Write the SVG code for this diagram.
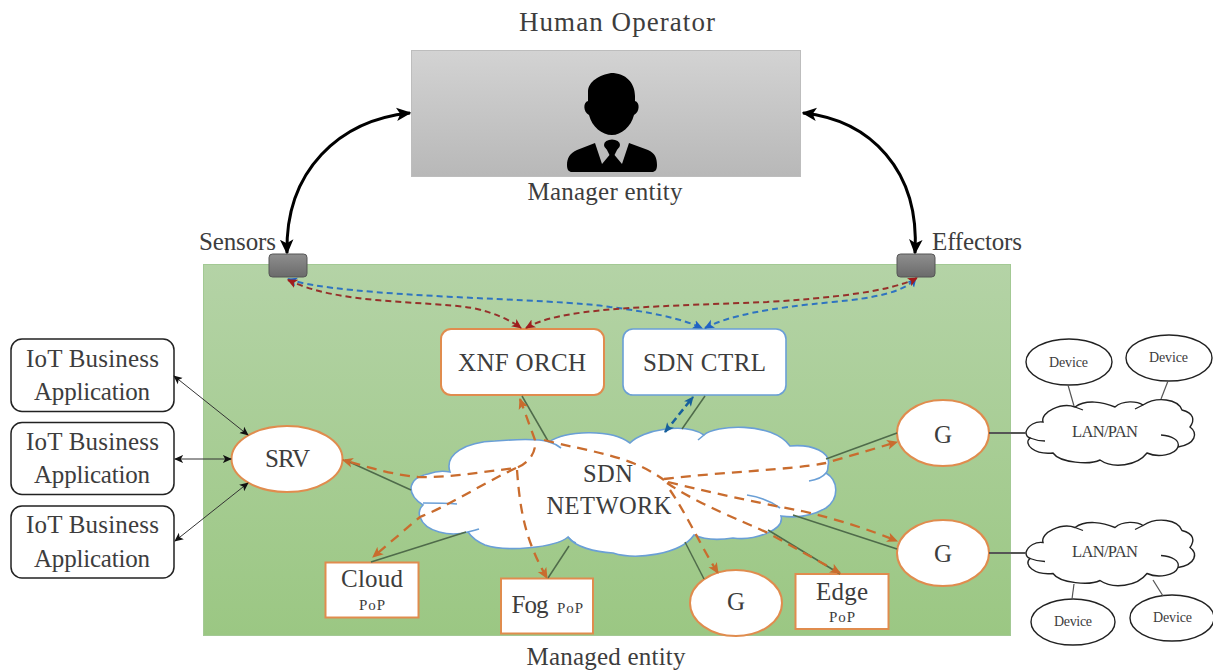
<svg xmlns="http://www.w3.org/2000/svg" width="1213" height="670" viewBox="0 0 1213 670">
<style>
text{font-family:"Liberation Serif","DejaVu Serif",serif;fill:#3d3d3d;text-anchor:middle}
.l{font-size:27px}.m{font-size:25px}.n{font-size:24.500px}.s{font-size:15px}.d{font-size:14px}.p{font-size:16.500px}
.app{fill:#fff;stroke:#222;stroke-width:1.5}
.orange{fill:#fff;stroke:#e08c4e;stroke-width:2}
.blue{fill:#fff;stroke:#6a9fd6;stroke-width:1.6}
.bk{fill:#fff;stroke:#222;stroke-width:1.4}
.inner{fill:none;stroke:#6a9fd6;stroke-width:1.6}
.inner2{fill:none;stroke:#222;stroke-width:1.3}
.grey{stroke:#4f6b4a;stroke-width:1.5;fill:none}
.dk{stroke:#555;stroke-width:1.8;fill:none}
.thin{stroke:#333;stroke-width:1;fill:none;marker-start:url(#mThin);marker-end:url(#mThin)}
.thick{stroke:#000;stroke-width:3;fill:none;marker-start:url(#mThick);marker-end:url(#mThick)}
.o{stroke:#c96c2e;stroke-width:2.300;stroke-dasharray:10 7;fill:none}
.r{stroke:#96302a;stroke-width:2;stroke-dasharray:6 4;fill:none}
.b{stroke:#2f74c0;stroke-width:2;stroke-dasharray:6 4;fill:none}
</style>
<defs>
<linearGradient id="gG" x1="0" y1="0" x2="0" y2="1"><stop offset="0" stop-color="#b4d3a6"/><stop offset="1" stop-color="#9bc783"/></linearGradient>
<linearGradient id="gM" x1="0" y1="0" x2="0" y2="1"><stop offset="0" stop-color="#d3d3d3"/><stop offset="1" stop-color="#b8b8b8"/></linearGradient>
<linearGradient id="gS" x1="0" y1="0" x2="0" y2="1"><stop offset="0" stop-color="#8e8e8e"/><stop offset="1" stop-color="#6b6b6b"/></linearGradient>
<marker id="mThin" viewBox="0 0 10 10" refX="9" refY="5" markerWidth="9" markerHeight="9" markerUnits="userSpaceOnUse" orient="auto-start-reverse"><path d="M0,0.5L10,5L0,9.5L2.5,5Z" fill="#111"/></marker>
<marker id="mThick" viewBox="0 0 10 10" refX="9" refY="5" markerWidth="15" markerHeight="15" markerUnits="userSpaceOnUse" orient="auto-start-reverse"><path d="M0,0.5L10,5L0,9.5L2.5,5Z" fill="#000"/></marker>
<marker id="mO" viewBox="0 0 10 10" refX="9" refY="5" markerWidth="11" markerHeight="11" markerUnits="userSpaceOnUse" orient="auto-start-reverse"><path d="M0,0.5L10,5L0,9.5L2.5,5Z" fill="#c96c2e"/></marker>
<marker id="mR" viewBox="0 0 10 10" refX="9" refY="5" markerWidth="10" markerHeight="10" markerUnits="userSpaceOnUse" orient="auto-start-reverse"><path d="M0,0.5L10,5L0,9.5L2.5,5Z" fill="#a01c1c"/></marker>
<marker id="mB" viewBox="0 0 10 10" refX="9" refY="5" markerWidth="10" markerHeight="10" markerUnits="userSpaceOnUse" orient="auto-start-reverse"><path d="M0,0.5L10,5L0,9.5L2.5,5Z" fill="#1f62c4"/></marker>
<marker id="mT" viewBox="0 0 10 10" refX="9" refY="5" markerWidth="10" markerHeight="10" markerUnits="userSpaceOnUse" orient="auto-start-reverse"><path d="M0,0.5L10,5L0,9.5L2.5,5Z" fill="#17609c"/></marker>
</defs>

<text class="l" x="617" y="31" textLength="196">Human Operator</text>
<rect id="managed-entity" x="203.500" y="264.500" width="807" height="371" fill="url(#gG)" stroke="#a3c994"/>
<text class="m" x="606" y="665" textLength="159">Managed entity</text>

<g id="manager-entity">
<rect x="411.500" y="50.500" width="389" height="126" fill="url(#gM)" stroke="#bdbdbd"/>
<path d="M611,73C626,73 635,83 635,96L635,101C640,102 640,112 634,115C631,127 621,135 612,135C602,135 592,127 589,115C583,112 583,102 588,101L588,92C588,81 600,75 611,73Z" fill="#000"/>
<path d="M595,143L602,164L612,152L622,164L629,143L648,150C655,153 657,158 657,165C657,170 655,172 652,172L572,172C569,172 567,170 567,165C567,158 570,153 577,150Z" fill="#000"/>
<ellipse cx="612" cy="145" rx="8" ry="5.500" fill="#000"/>
<path d="M606,148L618,148L614,156L610,156Z" fill="#000"/>
<text class="m" x="605" y="200" textLength="155">Manager entity</text>
</g>

<g id="sensors"><rect x="269" y="254" width="38" height="23" rx="3.500" fill="url(#gS)" stroke="#555"/><text class="m" x="237.500" y="250" textLength="77">Sensors</text></g>
<g id="effectors"><rect x="897" y="254" width="38" height="23" rx="3.500" fill="url(#gS)" stroke="#555"/><text class="m" x="977" y="250" textLength="90">Effectors</text></g>

<g id="app1"><rect class="app" x="11" y="339" width="163" height="72.500" rx="11"/><text class="m" x="92.500" y="367" textLength="133">IoT Business</text><text class="m" x="92" y="400" textLength="116">Application</text></g>
<g id="app2"><rect class="app" x="11" y="422.500" width="163" height="72" rx="11"/><text class="m" x="92.500" y="450" textLength="133">IoT Business</text><text class="m" x="92" y="483" textLength="116">Application</text></g>
<g id="app3"><rect class="app" x="11" y="506" width="163" height="72" rx="11"/><text class="m" x="92.500" y="533" textLength="133">IoT Business</text><text class="m" x="92" y="567" textLength="116">Application</text></g>

<g id="srv"><ellipse class="orange" cx="287" cy="459" rx="55.500" ry="33"/><text class="m" x="287.500" y="467" textLength="45">SRV</text></g>
<g id="xnf-orch"><rect class="orange" x="441" y="329" width="163" height="66" rx="10"/><text class="m" x="522" y="371" textLength="128">XNF ORCH</text></g>
<g id="sdn-ctrl"><rect class="blue" x="623" y="329" width="163" height="66" rx="10"/><text class="m" x="704.500" y="371" textLength="123">SDN CTRL</text></g>

<g id="sdn-network">
<path class="blue" d="M411,488C412,480 418,476 428,474C436,471 445,471 450,472C444,454 466,442 495,441C520,439 540,439 549,442C565,431 610,428 630,443C642,430 685,422 704,435C714,425 772,421 790,446C812,444 832,452 828,466C828,470 827,472 826,473C838,480 840,498 826,508C812,516 795,518 781,516C785,530 755,541 733,538C720,540 705,540 694,535C680,555 635,560 613,553C595,552 575,547 568,537C555,548 505,552 485,545C478,542 472,538 468,532C450,537 425,532 420,517C418,512 420,508 423,505C415,500 411,495 411,488Z"/>
<path class="inner" d="M549,442C553,443 557,445 561,448M704,435L698,440M826,473C822,478 816,480 809,481M780,508C772,502 760,497 747,495M423,503C432,503 445,503 457,504M468,532C472,531 476,530 479,529M568,537C571,540 573,542 576,543"/>
<text class="n" x="608" y="482" textLength="50">SDN</text>
<text class="n" x="609" y="514" textLength="125">NETWORK</text>
</g>

<g id="cloud-pop"><rect class="orange" x="325.500" y="562.500" width="93" height="55"/><text class="m" x="372" y="587" textLength="62">Cloud</text><text class="s" x="372" y="610" textLength="26">PoP</text></g>
<g id="fog-pop"><rect class="orange" x="501" y="578.500" width="92" height="55"/><text class="m" x="530" y="613" textLength="37">Fog</text><text class="s" x="570" y="613" textLength="26">PoP</text></g>
<g id="g-bottom"><ellipse class="orange" cx="736" cy="603" rx="46" ry="33"/><text class="m" x="736" y="610" textLength="20">G</text></g>
<g id="edge-pop"><rect class="orange" x="795.500" y="574" width="93" height="55"/><text class="m" x="842" y="600" textLength="52">Edge</text><text class="s" x="842" y="622" textLength="26">PoP</text></g>
<g id="g1"><ellipse class="orange" cx="943" cy="433" rx="46" ry="33"/><text class="m" x="943" y="443" textLength="20">G</text></g>
<g id="g2"><ellipse class="orange" cx="943" cy="553" rx="46" ry="33"/><text class="m" x="943" y="562" textLength="20">G</text></g>

<g id="lan1">
<path class="bk" d="M1026,432C1028,425 1036,421 1043,422C1040,412 1062,402 1075,407C1086,399 1103,402 1115,407C1123,400 1137,401 1143,405C1157,396 1178,399 1182,410C1194,413 1195,420 1190,427C1198,433 1196,444 1178,447C1175,455 1158,458 1147,453C1137,466 1113,469 1100,460C1090,465 1060,463 1053,453C1034,455 1023,444 1030,438C1027,437 1026,435 1026,432Z"/>
<path class="inner2" d="M1030,438C1035,440 1040,441 1045,441M1178,447C1180,440 1172,436 1161,435M1075,407L1083,410M1143,405L1135,409"/>
<text class="p" x="1105" y="437" textLength="66">LAN/PAN</text>
</g>
<g id="lan2">
<path class="bk" transform="translate(0,120.500)" d="M1026,432C1028,425 1036,421 1043,422C1040,412 1062,402 1075,407C1086,399 1103,402 1115,407C1123,400 1137,401 1143,405C1157,396 1178,399 1182,410C1194,413 1195,420 1190,427C1198,433 1196,444 1178,447C1175,455 1158,458 1147,453C1137,466 1113,469 1100,460C1090,465 1060,463 1053,453C1034,455 1023,444 1030,438C1027,437 1026,435 1026,432Z"/>
<path class="inner2" transform="translate(0,120.500)" d="M1030,438C1035,440 1040,441 1045,441M1178,447C1180,440 1172,436 1161,435M1075,407L1083,410M1143,405L1135,409"/>
<text class="p" x="1105" y="557" textLength="66">LAN/PAN</text>
</g>
<g id="device1"><ellipse class="bk" cx="1069" cy="362" rx="43" ry="23"/><text class="d" x="1068.500" y="367" textLength="39">Device</text></g>
<g id="device2"><ellipse class="bk" cx="1169" cy="358" rx="43" ry="23"/><text class="d" x="1168.500" y="362" textLength="39">Device</text></g>
<g id="device3"><ellipse class="bk" cx="1073" cy="622" rx="42" ry="23"/><text class="d" x="1073" y="626" textLength="38">Device</text></g>
<g id="device4"><ellipse class="bk" cx="1172" cy="618" rx="42" ry="23"/><text class="d" x="1172.500" y="622" textLength="39">Device</text></g>

<g id="connectors">
<path class="thick" d="M410,113C340,120 285,170 287,253"/>
<path class="thick" d="M803,113C870,120 920,170 915,253"/>
<path class="b" marker-start="url(#mB)" marker-end="url(#mB)" d="M288,279C340,298 560,298 610,307C650,312 680,318 702,328"/>
<path class="b" marker-start="url(#mB)" marker-end="url(#mB)" d="M705,328C730,315 770,308 833,302C875,298 905,292 916,278"/>
<path class="r" marker-start="url(#mR)" marker-end="url(#mR)" d="M288,280C340,305 420,300 473,308C495,313 510,320 521,328"/>
<path class="r" marker-start="url(#mR)" marker-end="url(#mR)" d="M526,328C560,308 640,307 767,302C830,298 890,292 917,278"/>
<line class="thin" x1="174" y1="376" x2="248" y2="435"/>
<line class="thin" x1="175" y1="459" x2="231" y2="459"/>
<line class="thin" x1="175" y1="541" x2="248" y2="483"/>
<line class="grey" x1="522" y1="396" x2="548" y2="441"/>
<line class="grey" x1="705" y1="396" x2="682" y2="429"/>
<line class="grey" x1="345" y1="460" x2="411" y2="490"/>
<line class="grey" x1="371" y1="562" x2="466" y2="532"/>
<line class="grey" x1="548" y1="578" x2="569" y2="546"/>
<line class="grey" x1="704" y1="579" x2="685" y2="542"/>
<line class="grey" x1="840" y1="574" x2="768" y2="530"/>
<line class="grey" x1="897" y1="433" x2="826" y2="459"/>
<line class="grey" x1="897" y1="549" x2="793" y2="515"/>
<line class="dk" x1="989" y1="433" x2="1026" y2="433"/>
<line class="dk" x1="989" y1="553" x2="1026" y2="553"/>
<line class="dk" style="stroke-width:1.2" x1="1068" y1="385" x2="1074" y2="406"/>
<line class="dk" style="stroke-width:1.2" x1="1168" y1="381" x2="1161" y2="399"/>
<line class="dk" style="stroke-width:1.2" x1="1074" y1="584" x2="1072" y2="599"/>
<line class="dk" style="stroke-width:1.2" x1="1153" y1="580" x2="1163" y2="596"/>
<path stroke="#17609c" stroke-width="2.500" stroke-dasharray="7 4" fill="none" marker-start="url(#mT)" marker-end="url(#mT)" d="M665,432L693,397"/>
<path class="o" marker-start="url(#mO)" marker-end="url(#mO)" d="M520,399L535,440C537,455 525,465 516,468C480,472 450,478 418,477C395,475 370,468 343,460"/>
<path class="o" marker-end="url(#mO)" d="M516,468C480,485 450,505 420,517L373,557"/>
<path class="o" marker-end="url(#mO)" d="M517,470C520,510 525,540 547,578"/>
<path class="o" d="M544,440C590,452 630,455 664,480"/>
<path class="o" marker-end="url(#mO)" d="M664,479C720,472 790,470 826,463L897,442"/>
<path class="o" marker-end="url(#mO)" d="M668,482C720,495 770,505 802,511C840,520 870,530 897,541"/>
<path class="o" marker-end="url(#mO)" d="M667,483C700,505 740,520 768,533L840,573"/>
<path class="o" marker-end="url(#mO)" d="M670,490C690,520 700,545 718,573"/>
</g>
</svg>
